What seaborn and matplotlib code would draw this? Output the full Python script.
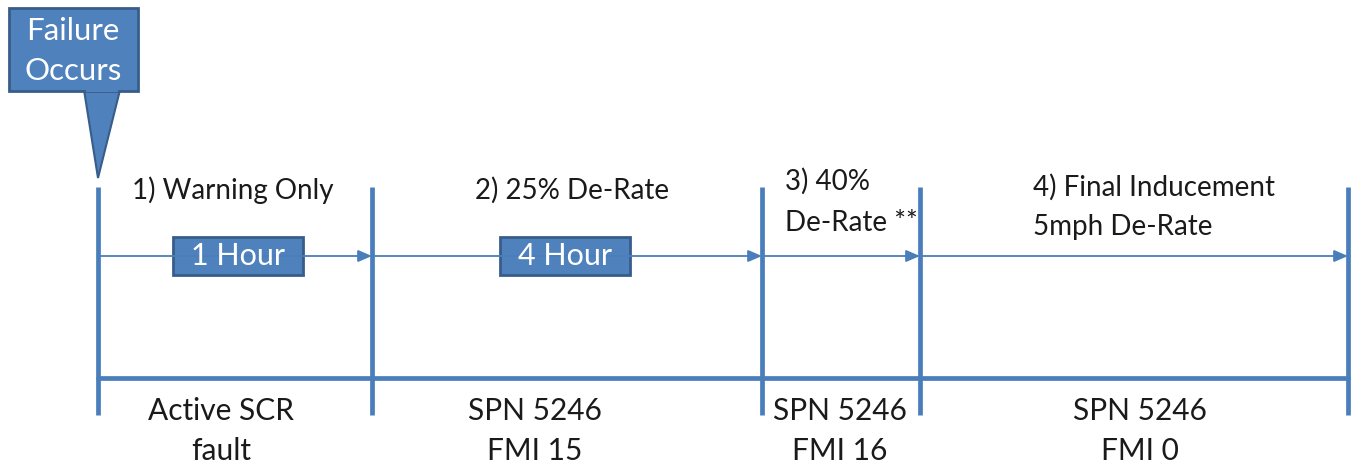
import matplotlib.pyplot as plt
import matplotlib.patches as mpatches
import seaborn as sns

# stages of the inducement timeline
stage_labels = ["1) Warning Only", "2) 25% De-Rate", "3) 40%\nDe-Rate **", "4) Final Inducement\n5mph De-Rate"]
fault_labels = ["Active SCR\nfault", "SPN 5246\nFMI 15", "SPN 5246\nFMI 16", "SPN 5246\nFMI 0"]
duration_labels = ["1 Hour", "4 Hour", None, None]
event_label = "Failure\nOccurs"

BLUE = "#4F81BD"
EDGE = "#385D8A"
LINE = "#4A7EBB"

sns.set_theme(style="white")
plt.rcParams['font.family'] = ['Lato', 'DejaVu Sans']

fig = plt.figure(figsize=(13.58, 4.69), dpi=100)
ax = fig.add_axes([0, 0, 1, 1])
ax.set_xlim(0, 1358)
ax.set_ylim(469, 0)
ax.axis("off")

# layout (pixel coordinates)
edges = [98, 372, 762, 920, 1348]
y_top, y_bot = 187, 415
y_arrow, y_base = 256, 378

# vertical separators
ax.vlines(edges, y_top, y_bot, color=LINE, lw=3.4)
# thick base line
sns.lineplot(x=[edges[0], edges[-1]], y=[y_base, y_base], color=LINE, lw=3.4, ax=ax)

# arrow segments
for i in range(len(edges) - 1):
    ax.annotate("", xy=(edges[i + 1], y_arrow), xytext=(edges[i], y_arrow),
                arrowprops=dict(arrowstyle="-|>,head_length=0.7,head_width=0.3",
                                color=LINE, lw=1.3, shrinkA=0, shrinkB=0))

# stage labels on top
top_pos = [(233, 190, "center", 1.6), (572, 190, "center", 1.6),
           (785, 202, "left", 1.7), (1033, 207, "left", 1.6)]
for lab, (x, y, ha, ls) in zip(stage_labels, top_pos):
    ax.text(x, y, lab, ha=ha, va="center", fontsize=20, color="#1a1a1a", linespacing=ls)

# fault codes under the base line
bot_x = [221, 535, 840, 1140]
for lab, x in zip(fault_labels, bot_x):
    ax.text(x, 431, lab, ha="center", va="center", fontsize=21.5, color="#1a1a1a", linespacing=1.5)

# duration boxes
box_x = [238, 565]
for lab, x in zip(duration_labels, box_x):
    if lab is None:
        continue
    ax.add_patch(mpatches.Rectangle((x - 65, 237), 130, 38, facecolor=BLUE, edgecolor=EDGE, lw=2))
    ax.text(x, 256, lab, ha="center", va="center", fontsize=22, color="white")

# callout for failure event
ax.add_patch(mpatches.Polygon([(84, 90), (120, 90), (98, 178)], closed=True,
                              facecolor=BLUE, edgecolor=EDGE, lw=1.5))
ax.add_patch(mpatches.Rectangle((9, 8), 129, 83, facecolor=BLUE, edgecolor=EDGE, lw=2))
ax.add_patch(mpatches.Rectangle((86, 86), 32, 6, facecolor=BLUE, edgecolor="none"))
ax.text(73, 51, event_label, ha="center", va="center", fontsize=22.5, color="white", linespacing=1.55)

fig.savefig("out.png", dpi=100, facecolor="white")
